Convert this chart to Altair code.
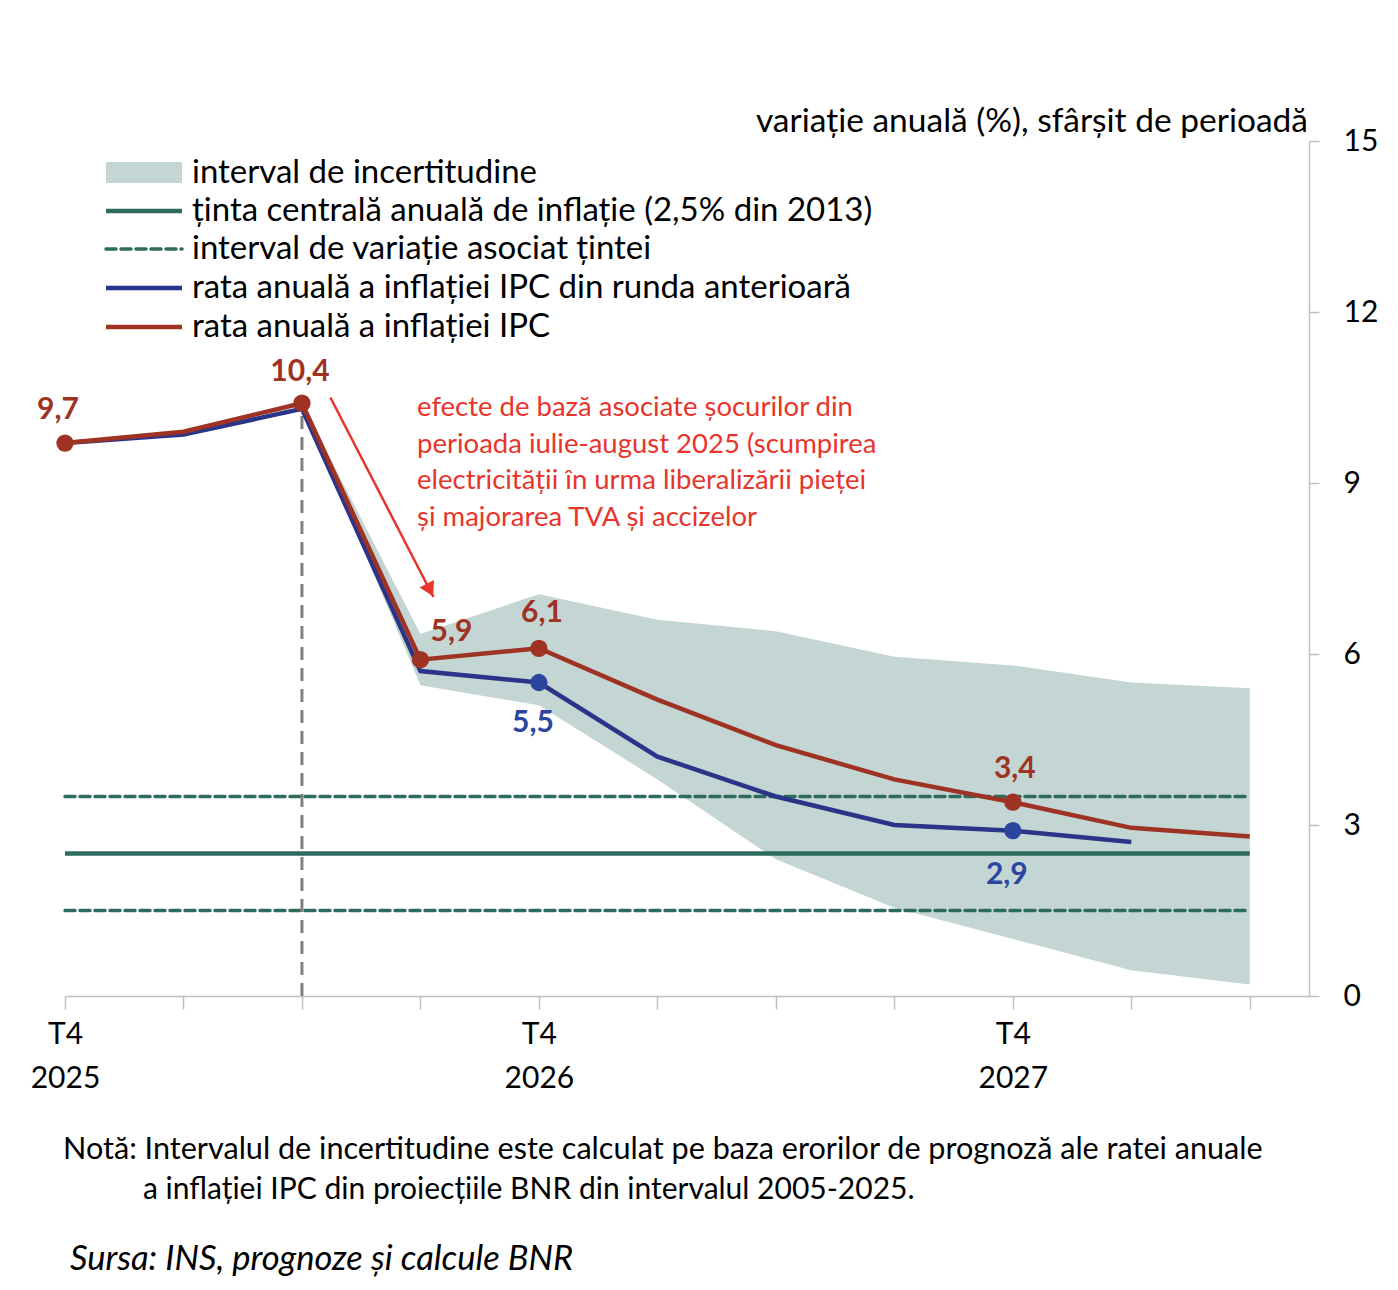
import altair as alt
import pandas as pd

# ---------------- data ----------------
quarters = list(range(11))                      # T4 2025 ... T2 2028
ipc = [9.7, 9.9, 10.4, 5.9, 6.1, 5.2, 4.4, 3.8, 3.4, 2.95, 2.8]
ipc_prev = [9.7, 9.85, 10.3, 5.7, 5.5, 4.2, 3.5, 3.0, 2.9, 2.7]
band_q = [2, 3, 4, 5, 6, 7, 8, 9, 10]
band_low = [10.4, 5.45, 5.1, 3.8, 2.4, 1.55, 1.0, 0.45, 0.2]
band_high = [10.4, 6.35, 7.05, 6.6, 6.4, 5.95, 5.8, 5.5, 5.4]
target = 2.5
target_low = 1.5
target_high = 3.5
target_span = [0, 10]
cut_q = 2
ipc_marked = [0, 2, 3, 4, 8]
prev_marked = [4, 8]
x_tick_pos = [0, 4, 8]
x_tick_q = ["T4", "T4", "T4"]
x_tick_year = ["2025", "2026", "2027"]
y_ticks = [0, 3, 6, 9, 12, 15]
y_title = "variație anuală (%), sfârșit de perioadă"
legend_labels = [
    "interval de incertitudine",
    "ținta centrală anuală de inflație (2,5% din 2013)",
    "interval de variație asociat țintei",
    "rata anuală a inflației IPC din runda anterioară",
    "rata anuală a inflației IPC",
]
annot_lines = [
    "efecte de bază asociate șocurilor din",
    "perioada iulie-august 2025 (scumpirea",
    "electricității în urma liberalizării pieței",
    "și majorarea TVA și accizelor",
]
arrow_from = [2.24, 10.5]
arrow_to = [3.11, 7.0]
note_lines = [
    "Notă: Intervalul de incertitudine este calculat pe baza erorilor de prognoză ale ratei anuale",
    "a inflației IPC din proiecțiile BNR din intervalul 2005-2025.",
]
source_text = "Sursa: INS, prognoze și calcule BNR"

# ---------------- style ----------------
FONT = "Lato"
RED = "#9e3223"
BLUE = "#2a3589"
BLUE_PT = "#2c46a0"
TEAL = "#2e6b5f"
BAND = "#c3d6d3"
ANN = "#e8352b"
GRID = "#c0c0c0"
W, H = 1244, 855


def fmt(v):
    return ("%g" % v).replace(".", ",")


label_expr = " : ".join(
    f"datum.value === {p} ? ['{q}', '{yr}']" for p, q, yr in zip(x_tick_pos, x_tick_q, x_tick_year)
) + " : ''"

x_axis = alt.Axis(values=quarters, labelExpr=label_expr, title=None, tickSize=13,
                  tickColor=GRID, domainColor=GRID, domainWidth=1.5, tickWidth=1.5,
                  labelFont=FONT, labelFontSize=30, labelColor="black", labelPadding=10,
                  labelLineHeight=44, labelOverlap=False, labelFlush=False, labelBaseline="top",
                  grid=False)
y_axis = alt.Axis(values=y_ticks, orient="right", title=None, tickSize=10,
                  tickColor=GRID, domainColor=GRID, domainWidth=1.5, tickWidth=1.5,
                  labelFont=FONT, labelFontSize=30, labelColor="black", labelPadding=24,
                  grid=False)
x_scale = alt.Scale(domain=[0, 10.5], nice=False, zero=False)
y_scale = alt.Scale(domain=[0, 15], nice=False)


def X(f):
    return alt.X(f, type="quantitative", scale=x_scale, axis=x_axis)


def Y(f):
    return alt.Y(f, type="quantitative", scale=y_scale, axis=y_axis)


df_ipc = pd.DataFrame({"q": quarters, "v": ipc})
df_prev = pd.DataFrame({"q": quarters[:len(ipc_prev)], "v": ipc_prev})
df_band = pd.DataFrame({"q": band_q, "lo": band_low, "hi": band_high})
df_target = pd.DataFrame({"y": [target], "x0": [target_span[0]], "x1": [target_span[1]]})
df_tband = pd.DataFrame({"y": [target_low, target_high],
                         "x0": [target_span[0]] * 2, "x1": [target_span[1]] * 2})
df_cut = pd.DataFrame({"q": [cut_q], "y0": [0], "y1": [ipc[cut_q]]})
df_arrow = pd.DataFrame({"x0": [arrow_from[0]], "y0": [arrow_from[1]],
                         "x1": [arrow_to[0]], "y1": [arrow_to[1]]})
df_ipc_pts = df_ipc[df_ipc.q.isin(ipc_marked)].copy()
df_ipc_pts["t"] = df_ipc_pts.v.map(fmt)
df_prev_pts = df_prev[df_prev.q.isin(prev_marked)].copy()
df_prev_pts["t"] = df_prev_pts.v.map(fmt)
one = pd.DataFrame({"a": [0]})

DASH = [10, 5]

layers = []
layers.append(alt.Chart(df_band).mark_area(color=BAND, opacity=1).encode(
    x=X("q"), y=Y("lo"), y2="hi"))
layers.append(alt.Chart(df_tband).mark_rule(color=TEAL, strokeWidth=3.5, strokeDash=DASH,
                                            strokeCap="round").encode(
    x=X("x0"), x2="x1", y=Y("y")))
layers.append(alt.Chart(df_target).mark_rule(color=TEAL, strokeWidth=4.5).encode(
    x=X("x0"), x2="x1", y=Y("y")))
layers.append(alt.Chart(df_cut).mark_rule(color="#808080", strokeWidth=3, strokeDash=[13, 8]).encode(
    x=X("q"), y=Y("y0"), y2="y1"))
layers.append(alt.Chart(df_prev).mark_line(color=BLUE, strokeWidth=4.5).encode(
    x=X("q"), y=Y("v")))
layers.append(alt.Chart(df_ipc).mark_line(color=RED, strokeWidth=4.5).encode(
    x=X("q"), y=Y("v")))
layers.append(alt.Chart(df_prev_pts).mark_circle(color=BLUE_PT, size=300, opacity=1).encode(
    x=X("q"), y=Y("v")))
layers.append(alt.Chart(df_ipc_pts).mark_circle(color=RED, size=300, opacity=1).encode(
    x=X("q"), y=Y("v")))

# data labels (offsets are styling)
ipc_off = {0: (-7, -33), 2: (-2, -31), 3: (31, -28), 4: (3, -35), 8: (2, -33)}
prev_off = {4: (-6, 40), 8: (-6, 44)}
for q, (dx, dy) in ipc_off.items():
    layers.append(alt.Chart(df_ipc_pts).transform_filter(alt.datum.q == q).mark_text(
        font=FONT, fontSize=30, fontWeight="bold", color=RED, dx=dx, dy=dy).encode(
        x=X("q"), y=Y("v"), text="t:N"))
for q, (dx, dy) in prev_off.items():
    layers.append(alt.Chart(df_prev_pts).transform_filter(alt.datum.q == q).mark_text(
        font=FONT, fontSize=30, fontWeight="bold", color=BLUE_PT, dx=dx, dy=dy).encode(
        x=X("q"), y=Y("v"), text="t:N"))

# arrow
layers.append(alt.Chart(df_arrow).mark_rule(color=ANN, strokeWidth=2.5).encode(
    x=X("x0"), y=Y("y0"), x2="x1", y2="y1"))
layers.append(alt.Chart(df_arrow).mark_point(shape="triangle-up", filled=True, color=ANN, opacity=1,
                                             size=260, angle=153, xOffset=-3.5, yOffset=-7).encode(
    x=X("x1"), y=Y("y1")))

# annotation text
for i, line in enumerate(annot_lines):
    layers.append(alt.Chart(one).mark_text(text=line, font=FONT, fontSize=27.5, color=ANN,
                                           align="left", baseline="middle").encode(
        x=alt.value(352), y=alt.value(267 + 36.5 * i)))

# y-axis title
layers.append(alt.Chart(one).mark_text(text=y_title, font=FONT, fontSize=33.5, color="black",
                                       align="right", baseline="middle").encode(
    x=alt.value(1243), y=alt.value(-19)))

# legend
leg_y = [32, 70, 108, 147, 186]
layers.append(alt.Chart(one).mark_rect(color=BAND).encode(
    x=alt.value(41), x2=alt.value(117), y=alt.value(leg_y[0] - 11), y2=alt.value(leg_y[0] + 10)))
layers.append(alt.Chart(one).mark_rule(color=TEAL, strokeWidth=4.5).encode(
    x=alt.value(41), x2=alt.value(117), y=alt.value(leg_y[1])))
layers.append(alt.Chart(one).mark_rule(color=TEAL, strokeWidth=3.5, strokeDash=DASH, strokeCap="round").encode(
    x=alt.value(41), x2=alt.value(117), y=alt.value(leg_y[2])))
layers.append(alt.Chart(one).mark_rule(color=BLUE, strokeWidth=4.5).encode(
    x=alt.value(41), x2=alt.value(117), y=alt.value(leg_y[3])))
layers.append(alt.Chart(one).mark_rule(color=RED, strokeWidth=4.5).encode(
    x=alt.value(41), x2=alt.value(117), y=alt.value(leg_y[4])))
for lbl, yy in zip(legend_labels, leg_y):
    layers.append(alt.Chart(one).mark_text(text=lbl, font=FONT, fontSize=33, color="black",
                                           align="left", baseline="middle").encode(
        x=alt.value(127), y=alt.value(yy)))

# notes
layers.append(alt.Chart(one).mark_text(text=note_lines[0], font=FONT, fontSize=30.6, color="black",
                                       align="left", baseline="middle").encode(
    x=alt.value(-2), y=alt.value(1009)))
layers.append(alt.Chart(one).mark_text(text=note_lines[1], font=FONT, fontSize=30, color="black",
                                       align="left", baseline="middle").encode(
    x=alt.value(78), y=alt.value(1049)))
layers.append(alt.Chart(one).mark_text(text=source_text, font=FONT, fontSize=34.5, fontStyle="italic",
                                       color="black", align="left", baseline="middle").encode(
    x=alt.value(5), y=alt.value(1119)))

chart = alt.layer(*layers).properties(
    width=W, height=H,
    padding={"left": 57, "top": 133, "right": 80, "bottom": 285},
    autosize=alt.AutoSizeParams(type="none"),
    background="white",
).configure_view(stroke=None)

chart.save("out.html", embed_options={"renderer": "svg", "actions": False})
